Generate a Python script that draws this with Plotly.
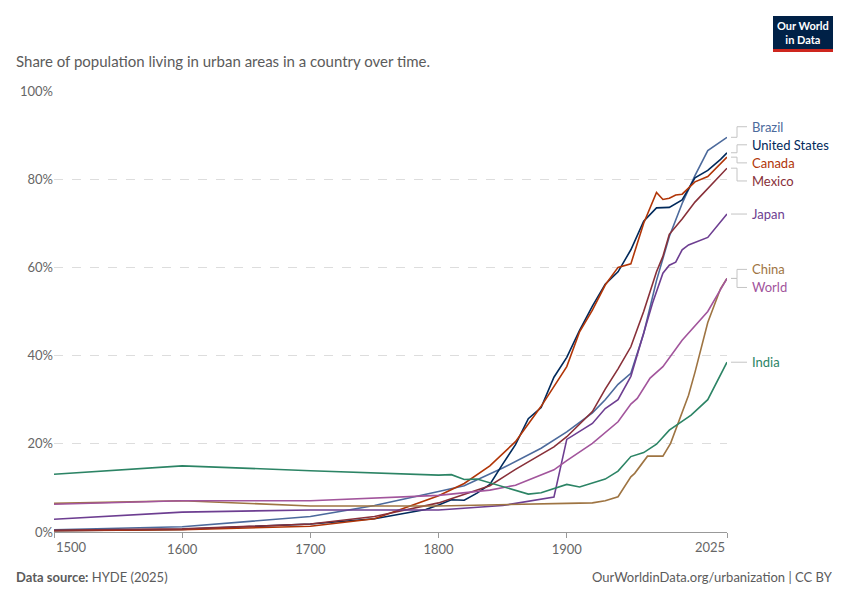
import plotly.graph_objects as go

# Share of population living in urban areas (%)
countries = ["Brazil", "United States", "Canada", "Mexico", "Japan", "China", "World", "India"]
colors = ["#4C6A9C", "#00295B", "#B13507", "#883039", "#6D3E91", "#9E7442", "#A2559C", "#2C8465"]

brazil_years = [1500, 1600, 1700, 1750, 1800, 1820, 1850, 1880, 1900, 1920, 1930, 1940, 1950,
                1960, 1970, 1980, 1990, 2000, 2010, 2020, 2025]
brazil = [0.5, 1.2, 3.5, 6.0, 9.2, 10.5, 14.5, 19.0, 22.7, 27.0, 30.0, 33.5, 36.0,
          45.0, 57.0, 67.0, 74.5, 80.8, 86.5, 88.5, 89.5]

us_years = [1500, 1600, 1700, 1750, 1790, 1800, 1810, 1820, 1830, 1840, 1850, 1860, 1870, 1880,
            1890, 1900, 1910, 1920, 1930, 1940, 1950, 1960, 1970, 1980, 1990, 2000, 2010, 2020, 2025]
us = [0.3, 0.6, 1.8, 3.0, 5.1, 6.1, 7.3, 7.2, 8.8, 10.8, 15.4, 19.8, 25.7, 28.2,
      35.1, 39.6, 45.7, 51.2, 56.2, 59.0, 64.0, 70.5, 73.5, 73.6, 75.3, 80.3, 82.0, 84.5, 86.0]

canada_years = [1500, 1600, 1700, 1750, 1800, 1820, 1840, 1860, 1880, 1890, 1900, 1910, 1920, 1930,
                1940, 1950, 1960, 1970, 1975, 1980, 1985, 1990, 2000, 2010, 2025]
canada = [0.3, 0.5, 1.3, 3.0, 8.2, 11.0, 15.0, 20.5, 28.5, 33.0, 37.5, 45.4, 50.3, 56.0,
          60.0, 60.8, 70.0, 77.0, 75.4, 75.7, 76.4, 76.6, 79.4, 80.6, 85.0]

mexico_years = [1500, 1600, 1700, 1750, 1800, 1840, 1860, 1890, 1900, 1920, 1930, 1940, 1950,
                1960, 1970, 1975, 1980, 1990, 2000, 2010, 2025]
mexico = [0.4, 0.7, 1.8, 3.5, 6.6, 10.5, 14.2, 19.3, 21.6, 27.3, 32.4, 37.0, 42.0,
          50.0, 59.0, 62.5, 67.5, 71.0, 74.8, 77.9, 82.5]

japan_years = [1500, 1600, 1700, 1800, 1850, 1890, 1900, 1920, 1930, 1940, 1950, 1957, 1967,
               1975, 1980, 1985, 1990, 1995, 2010, 2025]
japan = [2.9, 4.5, 5.0, 5.0, 6.0, 7.9, 21.0, 24.6, 28.0, 30.0, 35.3, 42.0, 52.0,
         58.7, 60.5, 61.2, 64.0, 65.1, 66.8, 72.1]

china_years = [1500, 1600, 1700, 1800, 1900, 1920, 1930, 1940, 1950, 1953, 1963, 1975, 1981,
               1987, 1995, 2000, 2010, 2020, 2025]
china = [6.5, 7.1, 5.9, 5.9, 6.5, 6.6, 7.1, 8.0, 12.5, 13.3, 17.2, 17.2, 20.1,
         24.6, 31.0, 36.2, 47.5, 55.2, 57.5]

world_years = [1500, 1600, 1700, 1800, 1840, 1860, 1890, 1900, 1920, 1940, 1950, 1955, 1965,
               1975, 1990, 2010, 2025]
world = [6.3, 7.1, 7.1, 8.3, 9.5, 10.6, 14.1, 16.2, 20.1, 25.0, 29.0, 30.3, 34.9,
         37.5, 43.5, 50.0, 57.5]

india_years = [1500, 1600, 1700, 1800, 1810, 1820, 1830, 1850, 1870, 1880, 1890, 1900, 1910,
               1930, 1940, 1950, 1960, 1970, 1980, 1997, 2010, 2018, 2025]
india = [13.1, 15.0, 13.9, 12.9, 13.0, 11.9, 12.0, 10.3, 8.6, 8.9, 9.9, 10.8, 10.2,
         12.0, 13.8, 17.1, 18.0, 19.9, 23.1, 26.5, 30.0, 34.5, 38.5]

x_ticks = [1500, 1600, 1700, 1800, 1900, 2025]
y_ticks = [0, 20, 40, 60, 80, 100]

series = [(brazil_years, brazil), (us_years, us), (canada_years, canada), (mexico_years, mexico),
          (japan_years, japan), (china_years, china), (world_years, world), (india_years, india)]

FONT = "Lato, 'Noto Sans', sans-serif"
GREY = "#5b5b5b"

fig = go.Figure()
for name, color, (yrs, vals) in zip(countries, colors, series):
    fig.add_trace(go.Scatter(x=yrs, y=vals, name=name, mode="lines",
                             line=dict(color=color, width=1.6), showlegend=False))

# spread end labels so they don't overlap (groups centred on their end values)
GAP = 4.1
ends = [vals[-1] for _, vals in series]
order = sorted(range(len(ends)), key=lambda i: -ends[i])
groups = []
for i in order:
    groups.append([i])
    while len(groups) > 1:
        a, b = groups[-2], groups[-1]
        ca = sum(ends[k] for k in a) / len(a)
        cb = sum(ends[k] for k in b) / len(b)
        low_a = ca - GAP * (len(a) - 1) / 2
        high_b = cb + GAP * (len(b) - 1) / 2
        if low_a - high_b < GAP:
            groups[-2:] = [a + b]
        else:
            break
label_pos = {}
for g in groups:
    c = sum(ends[k] for k in g) / len(g)
    for j, k in enumerate(g):
        label_pos[k] = c + GAP * ((len(g) - 1) / 2 - j)

# plot area in pixels: x 54..727, y 91..532
L, R, T, B = 54, 727, 91, 532
def px(x):
    return (x - L) / (R - L)
def py(y):
    return (B - y) / (B - T)

for k, name in enumerate(countries):
    yl = label_pos[k] / 100
    ye = ends[k] / 100
    fig.add_shape(type="path", xref="paper", yref="paper",
                  path=f"M {px(731)} {ye} L {px(737)} {ye} L {px(737)} {yl} L {px(747)} {yl}",
                  line=dict(color="#c4c4c4", width=1))
    fig.add_annotation(x=px(750), y=yl, xref="paper", yref="paper", text=name,
                       showarrow=False, xanchor="left", yanchor="middle",
                       font=dict(family=FONT, size=13, color=colors[k]))

# first / last x labels sit inside the axis ends
fig.add_annotation(x=x_ticks[0], y=py(547), xref="x", yref="paper", text=str(x_ticks[0]),
                   showarrow=False, xanchor="left", yanchor="middle",
                   font=dict(family=FONT, size=13, color="#666"))
fig.add_annotation(x=x_ticks[-1], y=py(547), xref="x", yref="paper", text=str(x_ticks[-1]),
                   showarrow=False, xanchor="right", yanchor="middle",
                   font=dict(family=FONT, size=13, color="#666"))

# subtitle
fig.add_annotation(x=px(14), y=py(61), xref="paper", yref="paper", showarrow=False,
                   xanchor="left", yanchor="middle",
                   text="Share of population living in urban areas in a country over time.",
                   font=dict(family=FONT, size=15, color=GREY))
# footer
fig.add_annotation(x=px(14), y=py(577), xref="paper", yref="paper", showarrow=False,
                   xanchor="left", yanchor="middle",
                   text="<b>Data source:</b> HYDE (2025)",
                   font=dict(family=FONT, size=13, color=GREY))
fig.add_annotation(x=px(835), y=py(577), xref="paper", yref="paper", showarrow=False,
                   xanchor="right", yanchor="middle",
                   text="OurWorldinData.org/urbanization | CC BY",
                   font=dict(family=FONT, size=13, color=GREY))
# logo
fig.add_shape(type="rect", xref="paper", yref="paper", x0=px(773), x1=px(833),
              y0=py(49), y1=py(16), fillcolor="#002147", line_width=0)
fig.add_shape(type="rect", xref="paper", yref="paper", x0=px(773), x1=px(833),
              y0=py(52), y1=py(49), fillcolor="#CE261E", line_width=0)
fig.add_annotation(x=px(803), y=py(32.5), xref="paper", yref="paper", showarrow=False,
                   xanchor="center", yanchor="middle", text="<b>Our World<br>in Data</b>",
                   font=dict(family=FONT, size=11, color="white"))

fig.update_layout(
    width=850, height=600,
    margin=dict(l=L, r=850 - R, t=T, b=600 - B),
    paper_bgcolor="white", plot_bgcolor="white",
    font=dict(family=FONT, color="#666"),
)
tick_text = [str(t) for t in x_ticks]
tick_text[0] = ""
tick_text[-1] = ""
fig.update_xaxes(range=[1500, 2025], tickvals=x_ticks, ticktext=tick_text,
                 showgrid=False, showline=True, linecolor="#999", linewidth=1,
                 ticks="outside", ticklen=5, tickcolor="#999",
                 tickfont=dict(size=13, color="#666"), zeroline=False)
fig.update_yaxes(range=[0, 100], tickvals=y_ticks, ticktext=[f"{t}%" for t in y_ticks],
                 showgrid=True, gridcolor="#dddddd", griddash="dash", gridwidth=1,
                 zeroline=False, showline=False, ticks="",
                 tickfont=dict(size=13, color="#666"))

fig.write_html("out.html", config={"displayModeBar": False},
               post_script="document.body.style.margin='0';")
